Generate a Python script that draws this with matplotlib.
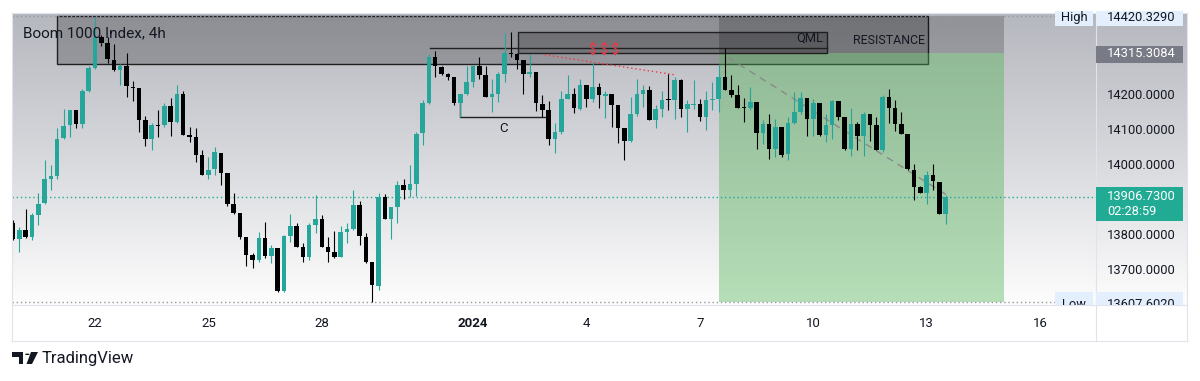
import numpy as np
import pandas as pd
import matplotlib
matplotlib.use('Agg')
import matplotlib.pyplot as plt
import matplotlib.dates as mdates
from matplotlib.patches import Rectangle, Polygon, Circle
from matplotlib.lines import Line2D
from matplotlib.colors import LinearSegmentedColormap
from matplotlib.transforms import Bbox, TransformedBbox

plt.rcParams['font.family'] = ['Roboto', 'DejaVu Sans']

# 4h candles, Boom 1000 Index
opens = [13831, 13785, 13812, 13793, 13854, 13889, 13958, 13965, 14075, 14110,
  14153, 14115, 14207, 14274, 14363, 14344, 14297, 14268, 14280, 14219,
  14217, 14124, 14072, 14112, 14110, 14164, 14119, 14200, 14082, 14077,
  14025, 13968, 13987, 14031, 13973, 13886, 13859, 13791, 13741, 13725,
  13790, 13738, 13760, 13639, 13795, 13823, 13764, 13736, 13826, 13842,
  13762, 13750, 13736, 13807, 13816, 13883, 13793, 13722, 13653, 13906,
  13842, 13876, 13940, 13927, 13944, 14088, 14173, 14306, 14276, 14255,
  14247, 14173, 14198, 14233, 14280, 14252, 14192, 14200, 14255, 14316,
  14312, 14297, 14255, 14262, 14171, 14153, 14072, 14091, 14186, 14200,
  14157, 14226, 14186, 14219, 14194, 14198, 14167, 14103, 14065, 14143,
  14198, 14211, 14126, 14157, 14183, 14181, 14238, 14157, 14169, 14171,
  14134, 14183, 14186, 14249, 14211, 14195, 14162, 14160, 14176, 14088,
  14115, 14044, 14105, 14028, 14117, 14148, 14189, 14129, 14173, 14082,
  14110, 14179, 14134, 14044, 14115, 14079, 14143, 14110, 14041, 14192,
  14160, 14115, 14086, 13984, 13935, 13918, 13968, 13949, 13857]
highs = [13840, 13821, 13873, 13859, 13916, 14011, 13996, 14101, 14157, 14154,
  14153, 14214, 14280, 14420, 14366, 14361, 14342, 14285, 14316, 14236,
  14217, 14138, 14117, 14153, 14173, 14189, 14224, 14209, 14105, 14101,
  14039, 14020, 14048, 14031, 13973, 13918, 13859, 13791, 13747, 13807,
  13835, 13769, 13760, 13797, 13857, 13831, 13774, 13831, 13911, 13854,
  13791, 13810, 13823, 13831, 13927, 13895, 13802, 13722, 13916, 13914,
  13876, 13952, 13958, 13996, 14091, 14183, 14314, 14321, 14280, 14259,
  14247, 14200, 14280, 14283, 14306, 14280, 14243, 14262, 14372, 14375,
  14316, 14297, 14314, 14262, 14195, 14179, 14117, 14209, 14252, 14217,
  14243, 14226, 14287, 14230, 14209, 14198, 14167, 14103, 14190, 14243,
  14224, 14221, 14167, 14209, 14257, 14247, 14243, 14183, 14240, 14186,
  14209, 14233, 14283, 14331, 14252, 14226, 14189, 14219, 14176, 14124,
  14141, 14129, 14105, 14134, 14205, 14205, 14189, 14186, 14173, 14141,
  14183, 14179, 14134, 14160, 14119, 14148, 14143, 14134, 14195, 14214,
  14181, 14148, 14086, 13999, 13937, 13980, 13999, 13949, 13911]
lows = [13783, 13750, 13788, 13783, 13826, 13887, 13925, 13958, 14072, 14077,
  14103, 14101, 14205, 14271, 14337, 14287, 14264, 14224, 14192, 14179,
  14091, 14050, 14041, 14077, 14105, 14079, 14117, 14082, 14063, 14006,
  13968, 13956, 13968, 13940, 13880, 13857, 13785, 13709, 13703, 13722,
  13731, 13719, 13634, 13634, 13779, 13764, 13722, 13727, 13802, 13762,
  13722, 13731, 13734, 13774, 13812, 13769, 13717, 13608, 13641, 13842,
  13785, 13831, 13899, 13906, 13908, 14053, 14171, 14249, 14252, 14240,
  14167, 14135, 14195, 14219, 14243, 14190, 14148, 14176, 14233, 14306,
  14271, 14198, 14249, 14151, 14135, 14053, 14031, 14084, 14186, 14145,
  14154, 14162, 14176, 14160, 14132, 14105, 14060, 14011, 14063, 14138,
  14162, 14124, 14103, 14134, 14154, 14129, 14134, 14091, 14157, 14122,
  14098, 14153, 14148, 14211, 14192, 14160, 14119, 14154, 14044, 14058,
  14015, 14020, 14020, 14011, 14115, 14143, 14079, 14079, 14079, 14063,
  14072, 14124, 14039, 14022, 14039, 14022, 14065, 14039, 14034, 14117,
  14094, 14084, 13984, 13897, 13918, 13886, 13925, 13857, 13829]
closes = [13785, 13812, 13791, 13854, 13887, 13956, 13965, 14072, 14107, 14153,
  14115, 14207, 14274, 14361, 14344, 14299, 14268, 14280, 14221, 14217,
  14126, 14072, 14110, 14108, 14164, 14119, 14200, 14082, 14077, 14025,
  13968, 13984, 14034, 13973, 13887, 13859, 13793, 13741, 13725, 13790,
  13738, 13760, 13639, 13795, 13823, 13764, 13736, 13826, 13842, 13764,
  13750, 13736, 13807, 13816, 13883, 13795, 13722, 13655, 13906, 13842,
  13876, 13940, 13925, 13944, 14086, 14173, 14306, 14278, 14257, 14247,
  14173, 14198, 14233, 14278, 14252, 14192, 14200, 14255, 14316, 14312,
  14297, 14255, 14262, 14173, 14153, 14072, 14091, 14186, 14200, 14160,
  14226, 14186, 14219, 14195, 14198, 14167, 14103, 14065, 14143, 14198,
  14211, 14126, 14157, 14183, 14181, 14238, 14157, 14170, 14171, 14134,
  14183, 14186, 14249, 14211, 14195, 14160, 14159, 14176, 14088, 14115,
  14044, 14105, 14025, 14117, 14148, 14189, 14129, 14173, 14082, 14110,
  14179, 14134, 14044, 14115, 14079, 14143, 14110, 14041, 14192, 14160,
  14115, 14086, 13987, 13935, 13918, 13968, 13952, 13857, 13907]
last_bar = '2024-01-13 12:00'

# price levels shown on the scale
day_high = 14420.3290
day_low = 13607.6020
last_price = 13906.7300
entry_price = 14315.3084
countdown = '02:28:59'
price_ticks = [13700, 13800, 14000, 14100, 14200]

# time axis
tick_days = ['2023-12-22', '2023-12-25', '2023-12-28', '2024-01-01', '2024-01-04',
  '2024-01-07', '2024-01-10', '2024-01-13', '2024-01-16']
tick_labels = ['22', '25', '28', '2024', '4', '7', '10', '13', '16']

# drawings (start, end, low price, high price)
resistance = ('2023-12-21 00:00', '2024-01-13 01:00', 14285, day_high)
qml_box = ('2024-01-02 04:30', '2024-01-10 09:00', entry_price, 14376)
qml_line = ('2023-12-30 20:30', '2024-01-10 09:00', 14331)
short_pos = ('2024-01-07 12:00', '2024-01-15 01:00')
c_leg = ('2023-12-31 16:00', '2024-01-02 23:00', 14192, 14134)
red_trend = (('2024-01-02 21:30', '2024-01-06 08:00'), (14311, 14254))
grey_trend = (('2024-01-07 18:00', '2024-01-13 13:00'), (14303, 13911))

W, H = 1200, 381
L, R, T, B = 12, 1096, 13, 305   # chart pane in pixels
PR, XB = 1187, 341               # right of price scale, bottom of time scale
TXT = '#131722'
UP, DOWN = '#26a69a', '#000000'
BORDER = '#e0e3eb'

def fx(px):
  return px / W

def fy(py):
  return 1 - py / H

fig = plt.figure(figsize=(12, 3.81), dpi=100)
fig.patch.set_facecolor('white')

# background gradient behind pane and price scale
bg = fig.add_axes([fx(L), fy(B), fx(PR - L), (B - T) / H])
cmap = LinearSegmentedColormap.from_list('tvbg', ['#b5b7be', '#d8d9dd', '#fdfdfd'])
bg.imshow(np.linspace(0, 1, 256).reshape(-1, 1), aspect='auto', cmap=cmap, extent=[0, 1, 0, 1])
bg.axis('off')

ax = fig.add_axes([fx(L), fy(B), fx(R - L), (B - T) / H])
ax.set_facecolor('none')
for s in ax.spines.values():
  s.set_visible(False)

def d(s):
  return mdates.date2num(pd.Timestamp(s))

base = d('2023-12-22')
ax.set_xlim(base - 2.196, base + 26.48)
ax.set_ylim(13598.2, 14430.0)

# candles
x = mdates.date2num(pd.date_range(end=last_bar, periods=len(opens), freq='4h'))
o, h, l, c = map(np.array, (opens, highs, lows, closes))
cols = np.where(c >= o, UP, DOWN)
ax.vlines(x, l, h, colors=cols, lw=0.8, zorder=4)
ax.bar(x, np.maximum(np.abs(c - o), 3), bottom=np.minimum(o, c), width=0.12,
  color=cols, lw=0, zorder=4)

# resistance zone
x0, x1, lo, hi = resistance
ax.add_patch(Rectangle((d(x0), lo), d(x1) - d(x0), hi - lo, fc=(0, 0, 0, 0.22),
  ec='#202020', lw=1, zorder=2))
ax.text(d(x1) - 0.08, (lo + hi) / 2 - 2, 'RESISTANCE', ha='right', va='center',
  fontsize=8.9, color=TXT, zorder=5)

# short position tool
x0, x1 = short_pos
ax.add_patch(Rectangle((d(x0), entry_price), d(x1) - d(x0), day_high - entry_price,
  fc=(0, 0, 0, 0.2), ec='none', zorder=2))
ax.add_patch(Rectangle((d(x0), day_low), d(x1) - d(x0), entry_price - day_low,
  fc=(0.30, 0.69, 0.31, 0.4), ec='none', zorder=2))

# QML box and line
x0, x1, lo, hi = qml_box
ax.add_patch(Rectangle((d(x0), lo), d(x1) - d(x0), hi - lo, fc=(0, 0, 0, 0.22),
  ec='#202020', lw=1, zorder=3))
ax.text(d(x1) - 0.1, hi - 16, 'QML', ha='right', va='center', fontsize=9.3, color=TXT, zorder=5)
x0, x1, lev = qml_line
ax.plot([d(x0), d(x1)], [lev, lev], color='#202020', lw=1, zorder=3)

# C leg
x0, x1, top, lev = c_leg
ax.plot([d(x0), d(x0), d(x1)], [top, lev, lev], color='#202020', lw=1, zorder=3)
ax.text((d(x0) + d(x1)) / 2, lev - 32, 'C', ha='center', va='center', fontsize=9.5,
  color=TXT, zorder=5)

# trend lines
(t0, t1), (p0, p1) = red_trend
ax.plot([d(t0), d(t1)], [p0, p1], color='#f23645', lw=1, ls=(0, (1, 2)), zorder=3)
ax.text(d('2024-01-04 11:00'), 14322, '$ $ $', ha='center', va='center', fontsize=10,
  color='#f23645', zorder=5)
(t0, t1), (p0, p1) = grey_trend
ax.plot([d(t0), d(t1)], [p0, p1], color='#8a8a8a', lw=1, ls=(0, (5, 4)), zorder=3)

# high / low / last price lines
ax.axhline(day_high, color='#9598a1', lw=1, ls=(0, (1, 2)), zorder=3)
ax.axhline(day_low, color='#9598a1', lw=1, ls=(0, (1, 2)), zorder=3)
ax.axhline(last_price, color=UP, lw=1, ls=(0, (1, 2)), zorder=3)

# axes ticks
ax.set_xticks([d(t) for t in tick_days])
ax.set_xticklabels(tick_labels)
ax.tick_params(axis='x', length=0, pad=8.5, labelsize=9.5, labelcolor=TXT)
ax.get_xticklabels()[3].set_fontweight('bold')
ax.yaxis.tick_right()
ax.set_yticks(price_ticks)
ax.set_yticklabels(['%.4f' % p for p in price_ticks])
ax.tick_params(axis='y', length=0, pad=8, labelsize=9.3, labelcolor=TXT)

ax.text((23 - L) / (R - L), 1 - (33 - T) / (B - T), 'Boom 1000 Index, 4h',
  transform=ax.transAxes, ha='left', va='center', fontsize=11, color=TXT, zorder=6)

# price scale tags
clip = TransformedBbox(Bbox([[0, fy(B)], [1, 1]]), fig.transFigure)

def tag(p, lines, fc, tc, up, down, x0=1096, x1=1183, tx=1107, ha='left', dy=0):
  yp = H - ax.transData.transform((0, p))[1]
  r = Rectangle((fx(x0), fy(yp + down)), fx(x1 - x0), (up + down) / H,
    transform=fig.transFigure, fc=fc, ec='none', zorder=5)
  r.set_clip_box(clip)
  fig.add_artist(r)
  for i, s in enumerate(lines):
    t = fig.text(fx(tx), fy(yp + dy + 15 * i), s, ha=ha, va='center', fontsize=9.3,
      color=tc, zorder=6)
    t.set_clip_box(clip)
    t.set_clip_on(True)

blue = '#e3effd'
tag(day_high, ['High'], blue, TXT, 5, 9.3, x0=1055, x1=1093, tx=1074, ha='center', dy=0.8)
tag(day_high, ['%.4f' % day_high], blue, TXT, 5, 9.3, dy=0.8)
tag(entry_price, ['%.4f' % entry_price], '#787b86', 'white', 7.6, 9.4)
tag(last_price, ['%.4f' % last_price, countdown], '#22ab94', 'white', 9.7, 24.3)
tag(day_low, ['Low'], blue, TXT, 10, 10, x0=1055, x1=1093, tx=1074, ha='center', dy=2.5)
tag(day_low, ['%.4f' % day_low], blue, TXT, 10, 10, dy=2.5)

# frame lines
for (xa, ya, xb, yb) in [(L, T, PR, T), (L, B, PR, B), (L, XB, PR, XB),
                         (L, T, L, XB), (R, T, R, XB), (PR, T, PR, XB)]:
  fig.add_artist(Line2D([fx(xa), fx(xb)], [fy(ya), fy(yb)], color=BORDER, lw=0.8))

# TradingView logo + name
logo = [Polygon([(fx(12), fy(352)), (fx(23), fy(352)), (fx(23), fy(364)), (fx(18.5), fy(364)),
          (fx(18.5), fy(356.5)), (fx(12), fy(356.5))], closed=True),
        Polygon([(fx(31), fy(352)), (fx(38), fy(352)), (fx(32), fy(364)), (fx(26.5), fy(364))], closed=True)]
for pg in logo:
  pg.set_transform(fig.transFigure)
  pg.set_facecolor(TXT)
  fig.add_artist(pg)
dot = Circle((fx(27.3), fy(354.3)), 2.3 / W, transform=fig.transFigure, fc=TXT)
fig.add_artist(dot)
fig.text(fx(42), fy(358), 'TradingView', ha='left', va='center', fontsize=12, color=TXT)

fig.savefig('out.png', dpi=100)
